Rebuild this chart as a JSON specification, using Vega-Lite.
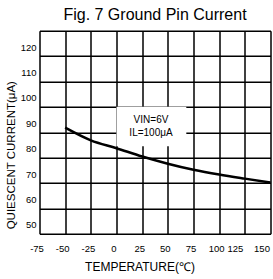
{
  "$schema": "https://vega.github.io/schema/vega-lite/v6.json",
  "width": 231,
  "height": 203,
  "autosize": "none",
  "padding": {"left": 39.5, "top": 30.7, "right": 2.5, "bottom": 45.3},
  "background": "white",
  "title": {"text": "Fig. 7 Ground Pin Current", "fontSize": 16, "font": "Liberation Sans", "fontWeight": "normal", "offset": 8, "anchor": "middle", "color": "black"},
  "config": {
    "view": {"stroke": null},
    "axis": {"labelFont": "Liberation Sans", "titleFont": "Liberation Sans", "labelColor": "black", "titleColor": "black", "titleFontWeight": "normal"}
  },
  "layer": [
    {
      "data": {"values": [{"x1": 0, "x2": 68, "y1": 81, "y2": 96.5}]},
      "mark": {"type": "rect", "fill": "white", "stroke": null},
      "encoding": {
        "x": {"field": "x1", "type": "quantitative", "scale": {"domain": [-75, 150], "nice": false, "zero": false},
          "axis": {"values": [-75, -50, -25, 0, 25, 50, 75, 100, 125, 150], "grid": true, "gridColor": "black", "gridWidth": 1.5, "gridOpacity": 1, "labels": false, "ticks": false, "domain": false, "title": null}},
        "x2": {"field": "x2"},
        "y": {"field": "y1", "type": "quantitative", "scale": {"domain": [46.5, 126.5], "nice": false, "zero": false},
          "axis": {"values": [46.5, 56.5, 66.5, 76.5, 86.5, 96.5, 106.5, 116.5, 126.5], "grid": true, "gridColor": "black", "gridWidth": 1.5, "gridOpacity": 1, "labels": false, "ticks": false, "domain": false, "title": null}},
        "y2": {"field": "y2"}
      }
    },
    {
      "data": {"values": [
        {"t": -50, "i": 88.3},
        {"t": -25, "i": 83.3},
        {"t": 0, "i": 80.2},
        {"t": 25, "i": 76.9},
        {"t": 50, "i": 74.1},
        {"t": 75, "i": 71.7},
        {"t": 100, "i": 69.8},
        {"t": 125, "i": 68.2},
        {"t": 150, "i": 66.7}
      ]},
      "mark": {"type": "line", "color": "black", "strokeWidth": 2.5, "interpolate": "monotone"},
      "encoding": {
        "x": {"field": "t", "type": "quantitative", "scale": {"domain": [-75, 150], "nice": false, "zero": false},
          "axis": {"orient": "bottom", "values": [-75, -50, -25, 0, 25, 50, 75, 100, 125, 150], "labelExpr": "'' + datum.value", "grid": false, "ticks": false, "domain": false, "labelFontSize": 9.5, "labelPadding": 10,
            "labelOffset": {"condition": [{"test": "datum.value == 125", "value": -10}, {"test": "datum.value == 150", "value": -9}], "value": -3},
            "labelFlush": false, "labelOverlap": false, "labelBound": false,
            "title": "TEMPERATURE(℃)", "titleFontSize": 12, "titleX": 100, "titleY": 33, "titleAlign": "center", "titleBaseline": "middle"}},
        "y": {"field": "i", "type": "quantitative", "scale": {"domain": [46.5, 126.5], "nice": false, "zero": false},
          "axis": {"orient": "left", "values": [50, 60, 70, 80, 90, 100, 110, 120], "grid": false, "ticks": false, "domain": false, "labelFontSize": 9.5, "labelPadding": 3.5, "labelOverlap": false, "labelBound": false,
            "title": "QUIESCENT CURRENT(μA)", "titleFontSize": 11.5, "titleX": -28, "titleY": 124, "titleAngle": 270, "titleAlign": "center", "titleBaseline": "middle"}}
      }
    },
    {
      "data": {"values": [
        {"t": 33.6, "i": 91.4, "label": "VIN=6V"},
        {"t": 33.6, "i": 86.3, "label": "IL=100μA"}
      ]},
      "mark": {"type": "text", "font": "Liberation Sans", "fontSize": 10, "color": "black", "align": "center", "baseline": "middle"},
      "encoding": {
        "x": {"field": "t", "type": "quantitative", "axis": null},
        "y": {"field": "i", "type": "quantitative", "axis": null},
        "text": {"field": "label"}
      }
    }
  ],
  "resolve": {"axis": {"x": "independent", "y": "independent"}}
}
